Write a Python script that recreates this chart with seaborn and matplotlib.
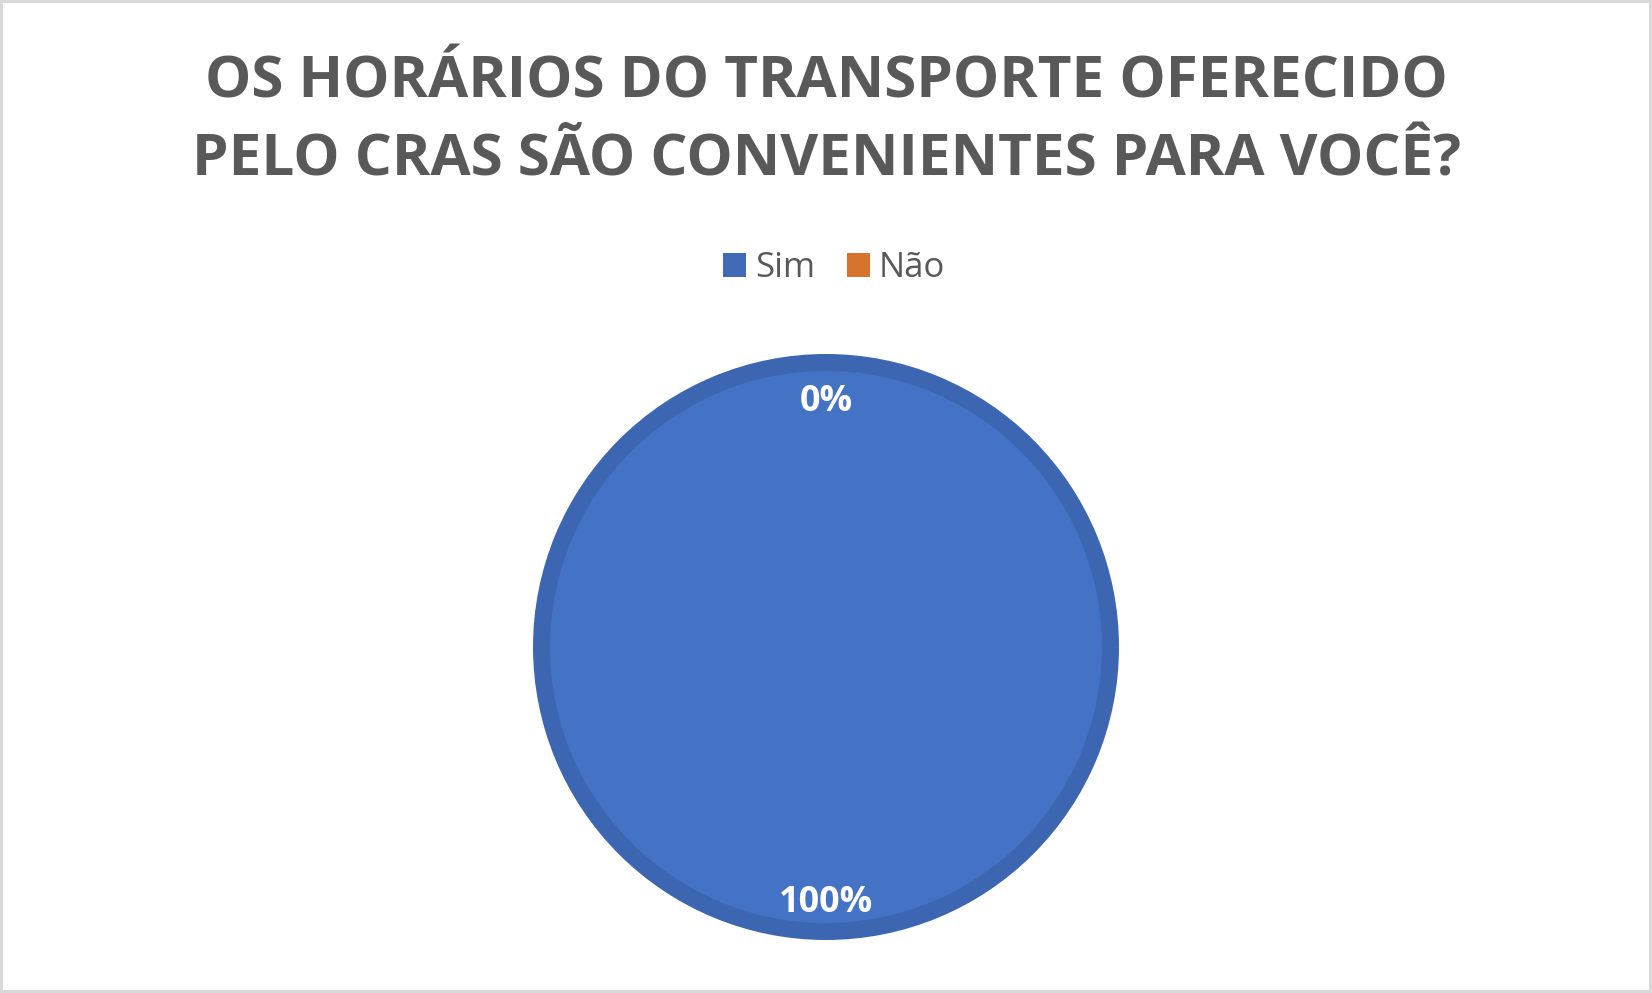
import matplotlib
matplotlib.use("Agg")
import matplotlib.pyplot as plt
import matplotlib.transforms as mtransforms
from matplotlib.patches import Patch
import seaborn as sns

# ---- data ----
title_lines = ["OS HORÁRIOS DO TRANSPORTE OFERECIDO",
               "PELO CRAS SÃO CONVENIENTES PARA VOCÊ?"]
categories = ["Sim", "Não"]
values = [100, 0]
colors = ["#4472C4", "#ED7D31"]
legend_colors = ["#3F6BB7", "#D8722F"]

sns.set_theme(style="white")
plt.rcParams['font.family'] = ['Open Sans', 'DejaVu Sans']

W, H, DPI = 1652, 993, 100
fig = plt.figure(figsize=(W / DPI, H / DPI), dpi=DPI)
fig.patch.set_facecolor("white")
fig.patch.set_edgecolor("#D9D9D9")
fig.patch.set_linewidth(4.3)

# title (two lines)
title_color = "#595959"
fig.text(826 / W, 1 - 97 / H, title_lines[0], ha="center", va="baseline",
         fontsize=42, fontweight="bold", color=title_color)
fig.text(826 / W, 1 - 175 / H, title_lines[1], ha="center", va="baseline",
         fontsize=42, fontweight="bold", color=title_color)

# pie axes
cx, cy, R = 826, 647, 293
ax = fig.add_axes([(cx - R) / W, (H - cy - R) / H, 2 * R / W, 2 * R / H])
edge_px = 17
r_pie = (R - edge_px / 2) / R
wedges, texts, autotexts = ax.pie(
    values, colors=colors, startangle=90, counterclock=False,
    radius=r_pie, autopct='%.0f%%', pctdistance=0.88,
    wedgeprops=dict(edgecolor="#3C66B1", linewidth=edge_px * 72 / DPI),
    textprops=dict(color="white", fontsize=26, fontweight="bold"))
wedges[1].set_linewidth(0)
wedges[1].set_edgecolor("none")
shift = mtransforms.ScaledTranslation(0, -5.5 / DPI, fig.dpi_scale_trans)
for t in autotexts:
    t.set_va("center")
    t.set_transform(t.get_transform() + shift)
ax.set_xlim(-1, 1)
ax.set_ylim(-1, 1)
ax.set_aspect("equal")
ax.axis("off")

# legend
handles = [Patch(facecolor=c, edgecolor="none", label=l) for c, l in zip(legend_colors, categories)]
fig.legend(handles=handles, loc="center", bbox_to_anchor=(834 / W, 1 - 268 / H),
           ncol=2, frameon=False, fontsize=25, handlelength=0.68, handleheight=0.68,
           handletextpad=0.25, columnspacing=0.9, labelcolor="#595959")

fig.savefig("out.png", dpi=DPI)
